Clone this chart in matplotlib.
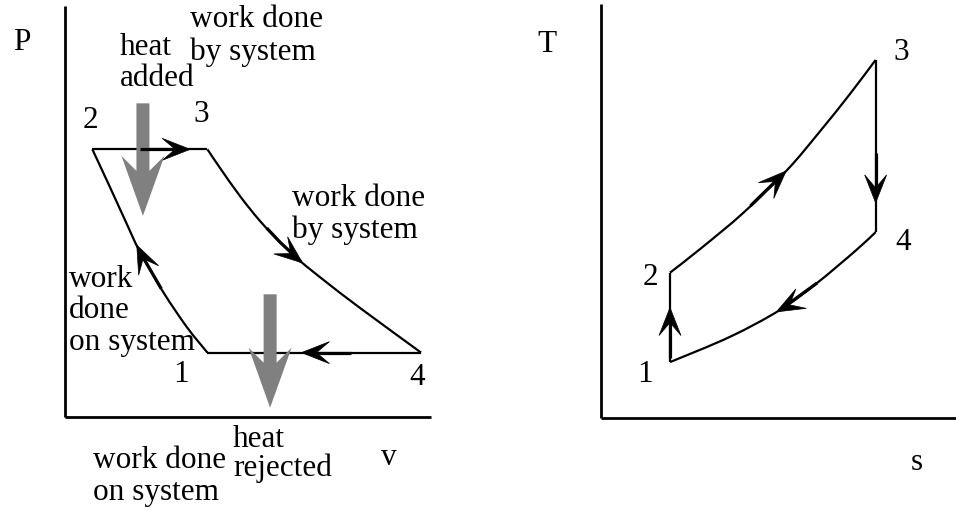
import numpy as np
import matplotlib
matplotlib.use("Agg")
import matplotlib.pyplot as plt
from matplotlib.patches import Polygon, PathPatch
from matplotlib.path import Path
from matplotlib.lines import Line2D
from matplotlib.transforms import IdentityTransform

plt.rcParams['font.family'] = ['Liberation Serif', 'DejaVu Serif']

# ---------------- P-v diagram data (arbitrary units) ----------------
pv_comp_v = [3.90, 3.34, 2.69, 2.06, 1.65, 1.24, 0.76]      # 1 -> 2
pv_comp_P = [1.56, 2.18, 3.04, 4.01, 4.79, 5.59, 6.51]
pv_add_v = [0.76, 3.90]                                      # 2 -> 3
pv_add_P = [6.51, 6.51]
pv_exp_v = [3.90, 4.24, 4.79, 5.33, 5.88, 6.43, 7.11, 8.06, 9.73]  # 3 -> 4
pv_exp_P = [6.51, 6.06, 5.37, 4.77, 4.25, 3.79, 3.30, 2.65, 1.56]
pv_rej_v = [9.73, 3.90]                                      # 4 -> 1
pv_rej_P = [1.56, 1.56]
heat_added_v = [2.14, 2.14]
heat_added_P = [7.63, 4.89]
heat_rejected_v = [5.61, 5.61]
heat_rejected_P = [2.98, 0.22]

# ---------------- T-s diagram data (arbitrary units) ----------------
ts_comp_s = [1.955, 1.955]                                   # 1 -> 2
ts_comp_T = [1.35, 3.51]
ts_add_s = [1.955, 2.80, 4.01, 5.25, 6.17, 7.02, 7.74]       # 2 -> 3
ts_add_T = [3.51, 4.08, 4.95, 5.99, 6.92, 7.83, 8.65]
ts_exp_s = [7.74, 7.74]                                      # 3 -> 4
ts_exp_T = [8.65, 4.49]
ts_rej_s = [7.74, 7.20, 6.09, 5.05, 3.64, 1.955]             # 4 -> 1
ts_rej_T = [4.49, 4.06, 3.26, 2.61, 1.96, 1.35]

W, H = 956, 509
fig = plt.figure(figsize=(W / 100, H / 100), dpi=100)
fig.patch.set_facecolor('white')


def fbox(x0, ytop, x1, ybot):
    return [x0 / W, 1 - ybot / H, (x1 - x0) / W, (ybot - ytop) / H]


ax1 = fig.add_axes(fbox(64.5, 6, 431, 416.7))
ax2 = fig.add_axes(fbox(600.5, 4, 956, 418))

for ax in (ax1, ax2):
    ax.set_xlim(0, 10)
    ax.set_ylim(0, 10)
    ax.set_xticks([])
    ax.set_yticks([])
    ax.patch.set_alpha(0)
    for side in ('top', 'right'):
        ax.spines[side].set_visible(False)
    for side in ('left', 'bottom'):
        ax.spines[side].set_linewidth(2.0)
        ax.spines[side].set_capstyle('butt')

LW = 1.6


def smooth_curve(ax, xs, ys):
    """Draw a smooth curve through the given points (Catmull-Rom as Bezier)."""
    p = np.column_stack([xs, ys]).astype(float)
    if len(p) == 2:
        verts, codes = [p[0], p[1]], [Path.MOVETO, Path.LINETO]
    else:
        ext = np.vstack([p[0], p, p[-1]])
        verts, codes = [p[0]], [Path.MOVETO]
        for i in range(len(p) - 1):
            a, b, c, d = ext[i], ext[i + 1], ext[i + 2], ext[i + 3]
            verts += [b + (c - a) / 6, c - (d - b) / 6, c]
            codes += [Path.CURVE4] * 3
    ax.add_patch(PathPatch(Path(verts, codes), fill=False, edgecolor='black',
                           lw=LW, capstyle='butt', joinstyle='round',
                           clip_on=False))


for xs, ys in [(pv_comp_v, pv_comp_P), (pv_add_v, pv_add_P),
               (pv_exp_v, pv_exp_P), (pv_rej_v, pv_rej_P)]:
    smooth_curve(ax1, xs, ys)
for xs, ys in [(ts_comp_s, ts_comp_T), (ts_add_s, ts_add_T),
               (ts_exp_s, ts_exp_T), (ts_rej_s, ts_rej_T)]:
    smooth_curve(ax2, xs, ys)


def mid_arrow(ax, xs, ys, frac, L=28, w=11, notch=15, shaft=50):
    pts = ax.transData.transform(np.column_stack([xs, ys]))
    seg = np.diff(pts, axis=0)
    lens = np.hypot(seg[:, 0], seg[:, 1])
    cum = np.concatenate([[0.0], np.cumsum(lens)])
    target = frac * cum[-1]
    i = int(np.clip(np.searchsorted(cum, target) - 1, 0, len(lens) - 1))
    t = (target - cum[i]) / lens[i]
    tip = pts[i] + t * seg[i]
    d = seg[i] / lens[i]
    n = np.array([-d[1], d[0]])
    start = max(target - shaft, 0)
    j = int(np.clip(np.searchsorted(cum, start) - 1, 0, len(lens) - 1))
    tj = (start - cum[j]) / lens[j]
    p0 = pts[j] + tj * seg[j]
    spts = np.array([p0] + [pts[k] for k in range(j + 1, i + 1)] + [tip - 8 * d])
    fig.add_artist(Line2D(spts[:, 0], spts[:, 1], color='black', lw=2.3,
                          solid_capstyle='butt', solid_joinstyle='round',
                          transform=IdentityTransform()))
    head = [tip, tip - L * d + w * n, tip - notch * d, tip - L * d - w * n]
    fig.add_artist(Polygon(head, closed=True, facecolor='black',
                           edgecolor='black', lw=0.5,
                           transform=IdentityTransform()))


def gray_arrow(ax, xs, ys, shaft_w=13, head_w=43, head_L=60, notch=15):
    p0, p1 = ax.transData.transform(np.column_stack([xs, ys]))
    d = (p1 - p0) / np.hypot(*(p1 - p0))
    n = np.array([-d[1], d[0]])
    sw, hw = shaft_w / 2, head_w / 2
    base = p1 - head_L * d
    inner = base + notch * d
    poly = [p0 + sw * n, inner + sw * n, base + hw * n, p1,
            base - hw * n, inner - sw * n, p0 - sw * n]
    fig.add_artist(Polygon(poly, closed=True, facecolor='#808080',
                           edgecolor='none', transform=IdentityTransform()))


# black direction arrows
mid_arrow(ax1, pv_add_v, pv_add_P, 0.85)
mid_arrow(ax1, pv_exp_v, pv_exp_P, 0.50)
mid_arrow(ax1, pv_rej_v, pv_rej_P, 0.56)
mid_arrow(ax1, pv_comp_v, pv_comp_P, 0.55)
mid_arrow(ax2, ts_comp_s, ts_comp_T, 0.61)
mid_arrow(ax2, ts_add_s, ts_add_T, 0.52)
mid_arrow(ax2, ts_exp_s, ts_exp_T, 0.83)
mid_arrow(ax2, ts_rej_s, ts_rej_T, 0.52)

# gray heat arrows
gray_arrow(ax1, heat_added_v, heat_added_P)
gray_arrow(ax1, heat_rejected_v, heat_rejected_P)

FS = 22.5


def label(x, y, s, ha='left'):
    fig.text(x / W, 1 - y / H, s, ha=ha, va='baseline', fontsize=FS)


# P-v labels (one call per line, positioned at each baseline)
label(13, 50, 'P')
label(120, 55, 'heat')
label(120, 86, 'added')
label(190, 27, 'work done')
label(190, 60, 'by system')
label(90, 128, '2', ha='center')
label(201, 122, '3', ha='center')
label(292, 206, 'work done')
label(292, 238, 'by system')
label(69, 287, 'work')
label(69, 318, 'done')
label(69, 350, 'on system')
label(181, 382, '1', ha='center')
label(417, 385, '4', ha='center')
label(93, 468, 'work done')
label(93, 500, 'on system')
label(233, 447, 'heat')
label(233, 476, 'rejected')
label(389, 465, 'v', ha='center')

# T-s labels
label(537, 52, 'T')
label(901, 60, '3', ha='center')
label(903, 250, '4', ha='center')
label(650, 285, '2', ha='center')
label(645, 382, '1', ha='center')
label(917, 470, 's', ha='center')

fig.savefig('out.png', dpi=100, facecolor='white')
